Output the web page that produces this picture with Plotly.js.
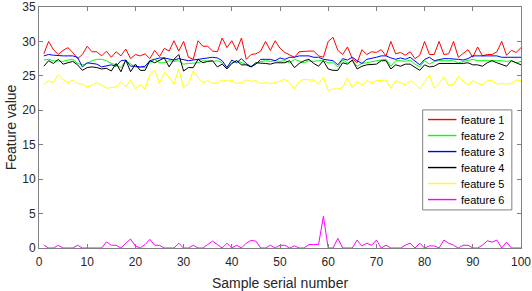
<!DOCTYPE html>
<html>
<head>
<meta charset="utf-8">
<script src="https://cdn.plot.ly/plotly-3.0.1.min.js"></script>
<style>html,body{margin:0;padding:0;background:#fff;}#chart{width:532px;height:291px;}</style>
</head>
<body>
<div id="chart"></div>
<script>
var seriesNames = ["feature 1", "feature 2", "feature 3", "feature 4", "feature 5", "feature 6"];
var sampleIndex = [];
for (var k = 1; k <= 100; k++) sampleIndex.push(k);

var feature1 = [28.2,30.0,28.8,28.1,28.7,29.1,28.4,27.5,28.1,29.3,28.5,28.5,27.9,28.6,27.7,28.5,27.9,28.9,27.5,28.1,27.9,28.2,27.5,28.7,27.8,
29.0,28.6,30.1,28.6,30.0,27.7,27.4,30.1,29.3,29.3,28.6,28.5,30.5,29.1,30.1,28.7,30.5,27.4,28.1,28.2,28.6,30.0,28.7,30.1,29.0,
28.4,28.1,27.7,28.5,28.6,28.6,28.6,27.9,27.7,30.0,30.6,28.7,28.1,29.2,27.5,26.9,28.8,28.1,28.5,28.4,28.8,27.9,30.0,28.2,
28.4,28.0,28.5,27.5,28.0,30.0,28.1,28.1,30.0,28.1,28.2,30.0,27.7,28.2,28.8,27.7,29.2,27.9,28.1,28.1,28.5,30.0,28.0,28.7,28.4,29.1];

var feature2 = [27.3,27.4,27.2,27.2,27.1,27.3,27.4,26.8,26.6,26.8,27.2,27.4,27.4,27.2,26.8,26.6,26.2,27.2,26.8,26.3,26.2,26.2,26.9,27.4,26.9,
26.9,27.2,27.1,27.2,26.7,26.8,26.8,26.9,27.2,27.1,27.1,27.2,26.9,26.2,26.9,27.2,26.9,26.7,26.4,26.8,27.1,27.2,27.1,27.2,27.1,
27.2,26.9,27.4,27.2,26.9,27.2,27.1,27.2,27.2,26.9,26.9,26.3,27.3,26.9,27.2,26.4,26.8,26.9,27.1,27.2,27.3,27.4,26.4,27.2,
27.2,27.1,27.3,26.7,26.3,27.2,26.7,27.1,27.2,27.2,27.1,27.2,26.9,27.1,27.2,27.4,27.2,27.2,27.3,27.2,27.3,27.2,27.1,27.2,26.9,27.1];

var feature3 = [27.9,28.1,28.0,27.9,27.9,27.9,27.9,27.7,26.3,26.9,26.8,26.7,26.3,26.4,26.6,26.4,27.2,27.3,26.4,26.4,26.3,26.4,27.2,27.4,27.6,
27.6,27.4,27.3,27.5,27.3,27.2,27.3,27.4,27.6,27.7,27.7,27.6,27.2,26.2,27.3,26.9,27.5,26.8,26.3,26.7,27.4,27.4,27.4,27.2,27.6,
27.4,27.7,27.7,27.9,27.9,27.9,27.7,27.7,27.4,27.3,27.2,26.6,27.5,27.3,27.7,27.2,26.8,27.4,27.5,27.7,27.9,27.9,27.6,27.4,
27.6,27.4,27.7,27.2,26.6,27.4,27.7,27.2,27.4,27.5,27.5,27.5,27.4,27.3,27.5,27.9,27.9,27.9,27.9,27.9,27.9,27.7,27.7,27.7,27.7,27.7];

var feature4 = [26.4,27.2,26.8,27.4,26.7,26.9,27.1,26.6,25.8,26.2,26.3,26.2,26.0,26.1,25.7,26.8,25.6,27.3,25.6,26.7,25.8,25.8,27.2,26.9,27.2,
27.6,26.3,27.4,28.1,25.7,26.2,26.2,27.4,26.9,27.1,27.2,26.3,26.7,26.0,26.8,27.2,26.6,26.6,26.3,26.9,26.9,26.8,26.7,26.9,26.9,
26.9,27.2,26.2,26.8,27.2,27.4,26.8,26.4,27.2,26.0,25.8,25.8,26.9,26.7,27.3,26.0,26.4,26.6,26.7,26.7,27.2,27.2,26.0,26.6,
26.4,26.7,26.7,26.3,25.8,26.6,26.3,26.4,26.8,26.8,26.8,26.7,26.7,26.8,26.9,26.6,26.6,26.4,26.9,27.2,26.9,26.7,26.4,27.2,26.9,26.6];

var feature5 = [23.8,24.3,24.0,25.2,24.4,24.0,24.4,23.9,23.8,23.4,23.6,24.0,23.7,23.2,23.3,23.4,24.2,23.4,24.4,23.1,23.7,23.1,25.2,25.8,23.9,
25.5,24.8,23.8,26.0,23.3,23.8,25.7,24.8,24.0,24.3,23.9,24.0,24.4,24.2,24.4,23.9,24.0,24.4,24.2,24.3,23.9,24.0,23.9,24.0,24.3,
24.5,24.0,23.1,24.2,24.5,24.4,24.4,23.8,24.8,22.9,23.1,23.1,23.3,24.7,23.3,24.2,23.7,24.3,24.0,24.3,24.4,24.4,23.2,24.3,
24.0,23.7,24.3,23.9,23.1,24.2,25.1,23.2,23.9,24.8,23.6,23.8,24.9,24.2,23.7,24.3,23.9,23.7,24.3,24.3,23.8,23.9,23.8,23.9,24.4,24.3];

var feature6 = [0.4,0,0,0.4,0,0,0,0.4,0,0,0,0,0,0.9,0.4,0.4,0,0.7,1.3,0.3,0,0.5,1.25,0.4,0.4,
0,0,0,0.7,0,0,0.4,0,0,0.5,1.0,0.5,0,0.7,0,0.4,0,0.7,1.1,1.0,0,0,0.4,0,0.4,
0.4,0,0.3,0,0,0.5,0.5,0.5,4.6,0,0,1.4,0,0,0,1.15,0.3,0.7,0.4,1.15,0,0.4,0,0,0,
0.4,0.7,0,0.7,0,0.3,0.3,0,1.15,0.7,0.4,0,0.4,0.4,0,0,0.4,1.05,0.85,1.15,0,0.85,0,0,0];

var seriesValues = [feature1, feature2, feature3, feature4, feature5, feature6];
var seriesColors = ["#ff0000", "#00ff00", "#0000ff", "#000000", "#ffff00", "#ff00ff"];

var FONT = "Liberation Sans, Arial, sans-serif";

var traces = seriesValues.map(function (vals, i) {
  return {
    x: sampleIndex,
    y: vals,
    type: "scatter",
    mode: "lines",
    name: seriesNames[i],
    showlegend: false,
    line: { color: seriesColors[i], width: 1 }
  };
});

// MATLAB-style legend box (compact spacing) built from the series names/colours
var legendBox = { x0: 0.796, x1: 0.981, y0: 0.158, y1: 0.573 };
var legendFirstY = 0.533, legendStep = 0.0664;
var shapes = [{
  type: "rect", xref: "paper", yref: "paper",
  x0: legendBox.x0, x1: legendBox.x1, y0: legendBox.y0, y1: legendBox.y1,
  fillcolor: "#ffffff", line: { color: "#808080", width: 1 }, layer: "above"
}];
var annotations = [];
seriesNames.forEach(function (name, i) {
  var yy = legendFirstY - i * legendStep;
  shapes.push({
    type: "line", xref: "paper", yref: "paper",
    x0: 0.807, x1: 0.866, y0: yy, y1: yy,
    line: { color: seriesColors[i], width: 1.4 }, layer: "above"
  });
  annotations.push({
    xref: "paper", yref: "paper", x: 0.872, y: yy,
    xanchor: "left", yanchor: "middle", showarrow: false,
    text: name, font: { family: FONT, size: 11, color: "#000000" }
  });
});

var axisCommon = {
  showgrid: false,
  zeroline: false,
  showline: true,
  linecolor: "#808080",
  linewidth: 1,
  mirror: "allticks",
  ticks: "inside",
  ticklen: 4,
  tickcolor: "#808080",
  ticklabeloverflow: "allow",
  tickfont: { family: FONT, size: 12, color: "#262626" }
};

var layout = {
  width: 532,
  height: 291,
  margin: { l: 39, r: 11, t: 7, b: 43 },
  paper_bgcolor: "#ffffff",
  plot_bgcolor: "#ffffff",
  showlegend: false,
  shapes: shapes,
  annotations: annotations,
  xaxis: Object.assign({}, axisCommon, {
    range: [0, 100], dtick: 10, tick0: 0, ticklabelstandoff: 3,
    title: { text: "Sample serial number", standoff: 9, font: { family: FONT, size: 14, color: "#262626" } }
  }),
  yaxis: Object.assign({}, axisCommon, {
    range: [0, 35], dtick: 5, tick0: 0,
    title: { text: "Feature value", standoff: 2, font: { family: FONT, size: 14, color: "#262626" } }
  })
};

Plotly.newPlot("chart", traces, layout, { displayModeBar: false, staticPlot: true });
</script>
</body>
</html>
